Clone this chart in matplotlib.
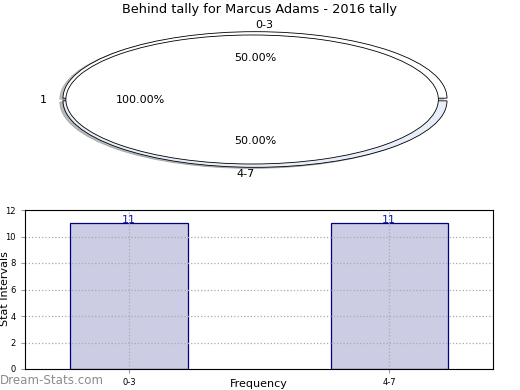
import matplotlib
matplotlib.use("Agg")
import matplotlib.pyplot as plt

# data
titulo = "Behind tally for Marcus Adams - 2016 tally"
faixas = ["0-3", "4-7"]
contagens = [11, 11]
grupo_interno = ["1"]
valores_internos = [1]

fig = plt.figure(figsize=(5.2, 3.9), dpi=100)

# pie (stretched, aspect not equal)
sombra = dict(ox=-0.012, oy=-0.012, shade=0.5)
ax_pie = fig.add_axes([63 / 520, 1 - 166 / 390, 384 / 520, 133 / 390])
_, txt_ext, _ = ax_pie.pie(contagens, labels=faixas, autopct="%.2f%%", startangle=0,
                           explode=[0.02, 0.02], shadow=sombra, labeldistance=1.1,
                           pctdistance=0.6, colors=["white", "#e8eef9"],
                           wedgeprops=dict(edgecolor="black", linewidth=0.6),
                           textprops=dict(fontsize=8))
# old-style label alignment
txt_ext[0].set_ha("left")
txt_ext[1].set_ha("right")
ax_pie.pie(valores_internos, labels=grupo_interno, autopct="%.2f%%", startangle=0,
           radius=0.97, center=(-0.015, 0), shadow=sombra,
           labeldistance=1.1, pctdistance=0.6, colors=["white"],
           wedgeprops=dict(edgecolor="black", linewidth=0.6),
           textprops=dict(fontsize=8))
ax_pie.set_xlim(-1, 1)
ax_pie.set_ylim(-1, 1)
ax_pie.set_aspect("auto")
ax_pie.axis("off")
fig.text(0.5, 1 - 10 / 390, titulo, ha="center", va="center", fontsize=9.3)

# bars
ax = fig.add_axes([25 / 520, 1 - 369 / 390, 468 / 520, 159 / 390])
x = list(range(len(faixas)))
ax.bar(x, contagens, width=0.45, color="#ccccE5", edgecolor="navy", linewidth=0.9)
for xi, v in zip(x, contagens):
    ax.annotate(str(v), (xi, v), xytext=(0, 2.5), textcoords="offset points",
                ha="center", va="center", color="#1a1aa0", fontsize=8)
ax.set_xlim(-0.4, 1.4)
ax.set_ylim(0, 12)
ax.set_yticks(range(0, 13, 2))
ax.set_xticks(x)
ax.set_xticklabels(faixas)
ax.tick_params(labelsize=6, length=3, color="#999999")
ax.grid(True, linestyle=":", color="#aaaaaa", linewidth=0.9)
ax.set_axisbelow("line")
fig.text(5 / 520, 1 - 289 / 390, "Stat Intervals", rotation=90, ha="center",
         va="center", fontsize=8)
fig.text(259 / 520, 1 - 384 / 390, "Frequency", ha="center", va="center", fontsize=8)

fig.text(0.0, 1 - 380 / 390, "Dream-Stats.com", ha="left", va="center",
         fontsize=8.6, color="#8c8c8c")

fig.savefig("out.png", dpi=100)
